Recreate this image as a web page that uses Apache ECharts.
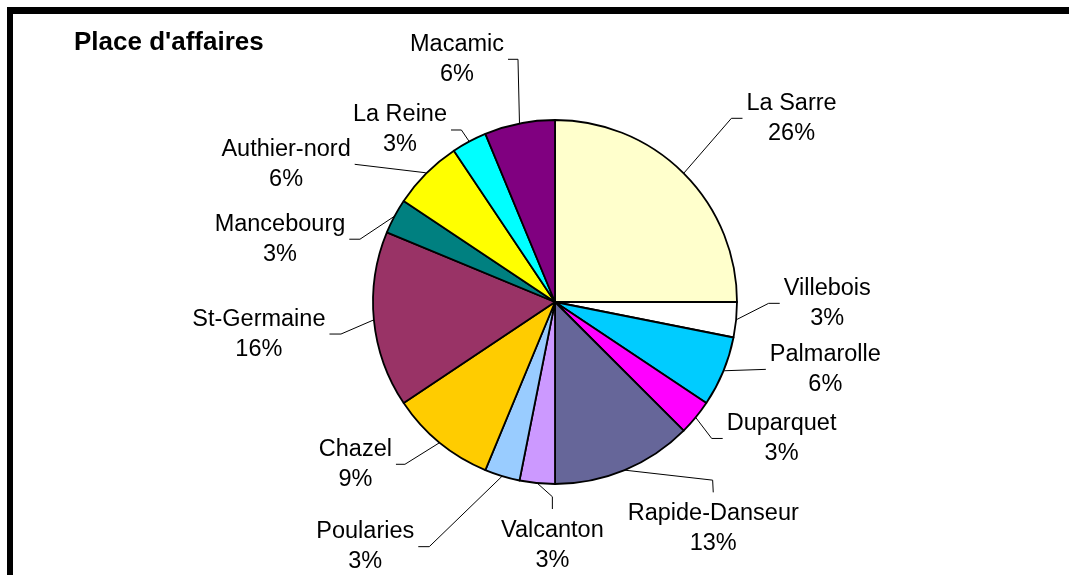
<!DOCTYPE html>
<html>
<head>
<meta charset="utf-8">
<title>Place d'affaires</title>
<script src="https://cdn.jsdelivr.net/npm/echarts@6/dist/echarts.min.js"></script>
<style>
  html, body { margin: 0; padding: 0; background: #fff; overflow: hidden; }
  .frame {
    position: absolute;
    left: 7px;
    top: 7px;
    width: 2000px;
    height: 2000px;
    border-top: 7px solid #000;
    border-left: 6px solid #000;
  }
  #chart { position: absolute; left: 0; top: 0; width: 1069px; height: 575px; }
</style>
</head>
<body>
<div class="frame"></div>
<div id="chart"></div>
<script>
// slices, clockwise from 12 o'clock
const places = ['La Sarre', 'Villebois', 'Palmarolle', 'Duparquet', 'Rapide-Danseur', 'Valcanton',
  'Poularies', 'Chazel', 'St-Germaine', 'Mancebourg', 'Authier-nord', 'La Reine', 'Macamic'];
// slice sizes (in 32nds of the pie)
const shares = [8, 1, 2, 1, 4, 1, 1, 3, 5, 1, 2, 1, 2];
// percentages as printed on the labels
const pctLabels = ['26%', '3%', '6%', '3%', '13%', '3%', '3%', '9%', '16%', '3%', '6%', '3%', '6%'];

const sliceColors = ['#FFFFCC', '#FFFFFF', '#00CCFF', '#FF00FF', '#666699', '#CC99FF',
  '#99CCFF', '#FFCC00', '#993366', '#008080', '#FFFF00', '#00FFFF', '#800080'];

// leader lines: bend and end relative to where the line leaves the pie,
// side = where the label sits relative to the end point
const leaders = [
  { side: 'right', bend: [47.7, -55], end: [58.8, -55] },
  { side: 'right', bend: [32.5, -16.5], end: [43.6, -16.5] },
  { side: 'right', bend: [1.4, -0.9], end: [42.7, -2.3] },
  { side: 'right', bend: [16, 21], end: [27, 21] },
  { side: 'below', bend: [88, 10], end: [88.6, 22.2] },
  { side: 'below', bend: [15.2, 13.6], end: [15.2, 25.9] },
  { side: 'left', bend: [-72.9, 70.5], end: [-83.9, 70.5] },
  { side: 'left', bend: [-34.6, 21.6], end: [-43.6, 21.6] },
  { side: 'left', bend: [-32.9, 14.2], end: [-44.4, 14.2] },
  { side: 'left', bend: [-34.5, 23], end: [-45.2, 23] },
  { side: 'left', bend: [-1, -0.6], end: [-71.6, -9] },
  { side: 'left', bend: [-7.8, -11.5], end: [-18.2, -11.5] },
  { side: 'left', bend: [-1.5, -64.2], end: [-11.5, -64.2] }
];

const chart = echarts.init(document.getElementById('chart'), null, { renderer: 'canvas' });

chart.setOption({
  animation: false,
  backgroundColor: 'transparent',
  title: {
    text: "Place d'affaires",
    left: 74,
    top: 30,
    padding: 0,
    textStyle: {
      fontFamily: 'Liberation Sans',
      fontWeight: 'bold',
      fontSize: 26,
      color: '#000'
    }
  },
  series: [{
    type: 'pie',
    center: [555, 302],
    radius: 182,
    startAngle: 90,
    clockwise: true,
    avoidLabelOverlap: false,
    emphasis: { disabled: true },
    itemStyle: { borderColor: '#000', borderWidth: 1.8 },
    label: {
      show: true,
      position: 'outside',
      fontFamily: 'Liberation Sans',
      fontSize: 23.5,
      lineHeight: 30,
      color: '#000',
      formatter: p => p.name + '\n' + pctLabels[p.dataIndex]
    },
    labelLine: {
      show: true,
      length: 20,
      length2: 10,
      lineStyle: { color: '#000', width: 1 }
    },
    labelLayout: function (params) {
      const pts = params.labelLinePoints;
      const lead = leaders[params.dataIndex];
      if (!pts || !lead) return {};
      const x0 = pts[0][0], y0 = pts[0][1];
      const bend = [x0 + lead.bend[0], y0 + lead.bend[1]];
      const end = [x0 + lead.end[0], y0 + lead.end[1]];
      const rect = params.labelRect;
      let x = end[0], y = end[1];
      if (lead.side === 'right') x += 4 + rect.width / 2;
      else if (lead.side === 'left') x -= 4 + rect.width / 2;
      else y += 6 + rect.height / 2;
      return {
        x: x,
        y: y,
        align: 'center',
        verticalAlign: 'middle',
        labelLinePoints: [[x0, y0], bend, end]
      };
    },
    data: places.map((name, i) => ({
      name: name,
      value: shares[i],
      itemStyle: { color: sliceColors[i] }
    }))
  }]
});
</script>
</body>
</html>
